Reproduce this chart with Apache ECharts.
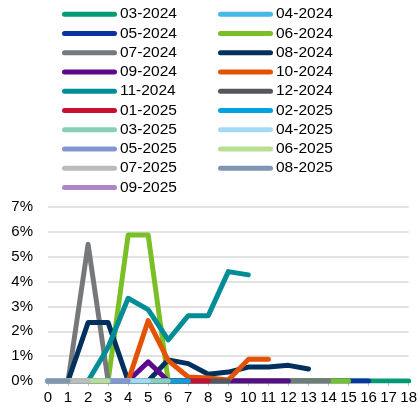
<!DOCTYPE html>
<html>
<head>
<meta charset="utf-8">
<script src="https://cdn.jsdelivr.net/npm/echarts@6/dist/echarts.min.js"></script>
<style>html,body{margin:0;padding:0;background:#fff}#c{width:420px;height:409px}</style>
</head>
<body>
<div id="c"></div>
<script>
// x-axis categories (months on book)
var xLabels = ['0','1','2','3','4','5','6','7','8','9','10','11','12','13','14','15','16','17','18'];
var seriesNames = ['03-2024','04-2024','05-2024','06-2024','07-2024','08-2024','09-2024','10-2024','11-2024','12-2024',
  '01-2025','02-2025','03-2025','04-2025','05-2025','06-2025','07-2025','08-2025','09-2025'];
var colors = ['#009a73','#45b8e8','#0a32a0','#7abf26','#76797c','#00305e','#5b0a8c','#e35205','#008d96','#54575b',
  '#c8102e','#00a3e0','#88cfb9','#a4daf1','#8396d0','#badf93','#bcbcbc','#8096b0','#b084c3'];
// values in %
var v0324 = [0,0,0,0,0,0,0,0,0,0,0,0,0,0,0,0,0,0,0];
var v0424 = [];
var v0524 = [0,0,0,0,0,0,0,0,0,0,0,0,0,0,0,0,0];
var v0624 = [0,0,0,0,5.87,5.87,0,0,0,0,0,0,0,0,0,0];
var v0724 = [0,0,5.5,0,0,0,0,0,0,0,0,0,0,0,0];
var v0824 = [0,0,2.35,2.35,0,0,0.85,0.7,0.27,0.36,0.56,0.56,0.63,0.48];
var v0924 = [0,0,0,0,0,0.77,0,0,0,0,0,0,0];
var v1024 = [0,0,0,0,0,2.43,0.82,0.16,0.12,0.04,0.87,0.87];
var v1124 = [0,0,0,1.36,3.33,2.87,1.65,2.63,2.63,4.4,4.27];
var v1224 = [0,0,0,0,0,0,0,0,0,0];
var v0125 = [0,0,0,0,0,0,0,0,0];
var v0225 = [0,0,0,0,0,0,0,0];
var v0325 = [0,0,0,0,0,0,0];
var v0425 = [0,0,0,0,0,0];
var v0525 = [0,0,0,0,0];
var v0625 = [0,0,0,0];
var v0725 = [0,0,0];
var v0825 = [0,0];
var v0925 = [0];
var yTicks = [0,1,2,3,4,5,6,7];

var allValues = [v0324,v0424,v0524,v0624,v0724,v0824,v0924,v1024,v1124,v1224,v0125,v0225,v0325,v0425,v0525,v0625,v0725,v0825,v0925];

var chart = echarts.init(document.getElementById('c'));
var font = 'Liberation Sans, Arial, sans-serif';
var leftNames = seriesNames.filter(function(n,i){return i%2===0;});
var rightNames = seriesNames.filter(function(n,i){return i%2===1;});
var capsule = 'path://M2.5,0 L52.5,0 A2.5,2.5 0 0 1 52.5,5 L2.5,5 A2.5,2.5 0 0 1 2.5,0 Z';
function legend(names, left){
  return {
    data: names, orient:'vertical', left:left, top:4.5, itemWidth:55, itemHeight:5, itemGap:0,
    icon: capsule, selectedMode:false, padding:0,
    textStyle:{fontFamily:font, fontSize:15.5, color:'#000', lineHeight:19.25, padding:[0,0,0,-2]}
  };
}
chart.setOption({
  animation:false,
  color: colors,
  legend:[legend(leftNames,62), legend(rightNames,218)],
  grid:{left:48, right:7, top:207, bottom:28, containLabel:false},
  xAxis:{type:'category', data:xLabels, boundaryGap:false,
    axisLine:{lineStyle:{color:'#bfbfbf', width:1}},
    axisTick:{show:true, alignWithLabel:true, length:5, lineStyle:{color:'#bfbfbf'}},
    axisLabel:{fontFamily:font, fontSize:15, color:'#000', margin:9, interval:0},
    splitLine:{show:false}},
  yAxis:{type:'value', min:yTicks[0], max:yTicks[yTicks.length-1], interval:1,
    axisLine:{show:false}, axisTick:{show:false},
    axisLabel:{fontFamily:font, fontSize:15, color:'#000', margin:15, formatter:'{value}%'},
    splitLine:{lineStyle:{color:'#d9d9d9', width:1.5}}},
  series: seriesNames.map(function(n,i){
    return {name:n, type:'line', data:allValues[i], showSymbol:false, symbol:'none',
      lineStyle:{width:5, cap:'round', join:'round', color:colors[i]}, itemStyle:{color:colors[i]}};
  })
});
</script>
</body>
</html>
